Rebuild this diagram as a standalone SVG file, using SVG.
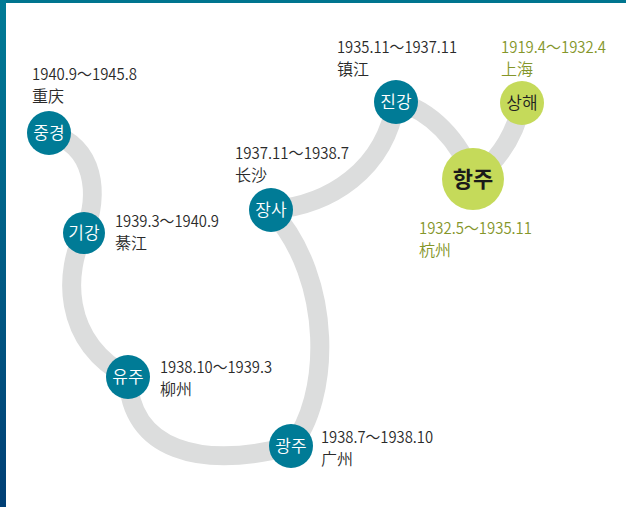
<svg xmlns="http://www.w3.org/2000/svg" width="626" height="507" viewBox="0 0 626 507">
<defs>
<linearGradient id="lg" x1="0" y1="0" x2="0" y2="1">
<stop offset="0" stop-color="#007b96"/>
<stop offset="1" stop-color="#003f75"/>
</linearGradient>
<style>
.route{fill:none;stroke:#dcdddd;stroke-width:19;stroke-linecap:round}
.t{fill:#007b96}
.g{fill:#c5da5a}
.nl{font-family:"Noto Sans CJK KR","Noto Sans",sans-serif;font-size:17px;font-weight:350;fill:#fff;text-anchor:middle}
.gl{font-family:"Noto Sans CJK KR","Noto Sans",sans-serif;font-size:17px;font-weight:350;fill:#222;text-anchor:middle}
.big{font-family:"Noto Sans CJK KR","Noto Sans",sans-serif;font-size:22px;font-weight:bold;fill:#1a1a1a;text-anchor:middle}
.d{font-family:"Noto Sans CJK KR","Noto Sans",sans-serif;font-size:16px;font-weight:350;fill:#2a2a2a}
.dg{font-family:"Noto Sans CJK KR","Noto Sans",sans-serif;font-size:16px;font-weight:350;fill:#84962a}
</style>
</defs>
<rect width="626" height="507" fill="#fff"/>
<rect x="0" y="0" width="626" height="3" fill="#00758f"/>
<rect x="0" y="0" width="6" height="507" fill="url(#lg)"/>
<g id="connectors">
<path class="route" d="M49,133 C95,145 100,195 84,233"/>
<path class="route" d="M84,233 C65,270 60,340 128,377"/>
<path class="route" d="M128,377 C130,450 200,470 291,446"/>
<path class="route" d="M291,446 C330,400 335,280 271,210"/>
<path class="route" d="M271,210 C330,205 385,170 396,101"/>
<path class="route" d="M396,101 C430,110 460,140 473,179"/>
<path class="route" d="M473,179 C500,160 515,135 522,103"/>
</g>
<g id="chongqing">
<circle class="t" cx="49" cy="133" r="22"/>
<text class="nl" x="49" y="139">중경</text>
<text class="d" x="32" y="80" textLength="105" lengthAdjust="spacingAndGlyphs">1940.9～1945.8</text>
<text class="d" x="32" y="102">重庆</text>
</g>
<g id="qijiang">
<circle class="t" cx="84" cy="233" r="21"/>
<text class="nl" x="84" y="239">기강</text>
<text class="d" x="115" y="227" textLength="104" lengthAdjust="spacingAndGlyphs">1939.3～1940.9</text>
<text class="d" x="115" y="249">綦江</text>
</g>
<g id="liuzhou">
<circle class="t" cx="128" cy="377" r="22"/>
<text class="nl" x="128" y="383">유주</text>
<text class="d" x="160" y="373" textLength="112" lengthAdjust="spacingAndGlyphs">1938.10～1939.3</text>
<text class="d" x="160" y="395">柳州</text>
</g>
<g id="guangzhou">
<circle class="t" cx="291" cy="446" r="22"/>
<text class="nl" x="291" y="452">광주</text>
<text class="d" x="321" y="443" textLength="112" lengthAdjust="spacingAndGlyphs">1938.7～1938.10</text>
<text class="d" x="321" y="465">广州</text>
</g>
<g id="changsha">
<circle class="t" cx="271" cy="210" r="22"/>
<text class="nl" x="271" y="216">장사</text>
<text class="d" x="235" y="159" textLength="114" lengthAdjust="spacingAndGlyphs">1937.11～1938.7</text>
<text class="d" x="235" y="181">长沙</text>
</g>
<g id="zhenjiang">
<circle class="t" cx="396" cy="102" r="22"/>
<text class="nl" x="396" y="108">진강</text>
<text class="d" x="337" y="53" textLength="120" lengthAdjust="spacingAndGlyphs">1935.11～1937.11</text>
<text class="d" x="337" y="75">镇江</text>
</g>
<g id="hangzhou">
<circle class="g" cx="473" cy="179" r="31"/>
<text class="big" x="473" y="187">항주</text>
<text class="dg" x="419" y="234" textLength="113" lengthAdjust="spacingAndGlyphs">1932.5～1935.11</text>
<text class="dg" x="419" y="256">杭州</text>
</g>
<g id="shanghai">
<circle class="g" cx="522" cy="103" r="22"/>
<text class="gl" x="522" y="109">상해</text>
<text class="dg" x="501" y="53" textLength="105" lengthAdjust="spacingAndGlyphs">1919.4～1932.4</text>
<text class="dg" x="501" y="75">上海</text>
</g>
</svg>
